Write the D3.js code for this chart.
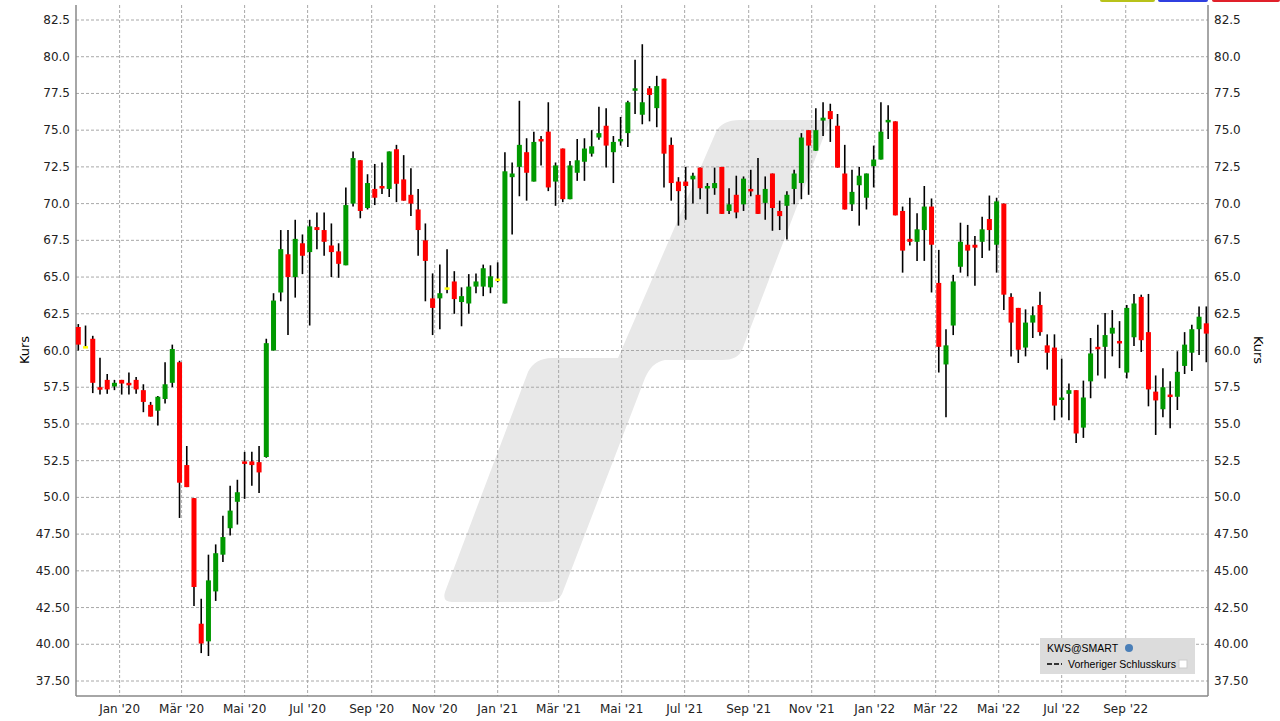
<!DOCTYPE html>
<html><head><meta charset="utf-8">
<script src="https://cdn.jsdelivr.net/npm/d3@7"></script>
<style>body{margin:0;background:#fff;font-family:"DejaVu Sans",Arial,sans-serif}</style>
</head><body><svg id="c" width="1280" height="721"></svg>
<script>
const startDate = new Date(2019,10,22);
const open  = [61.6,60.3,60.8,57.5,58.0,57.55,58.0,57.8,58.0,57.3,56.3,55.9,56.7,57.8,59.2,52.2,49.95,41.4,40.2,43.6,46.1,47.9,49.7,52.45,52.45,52.4,52.75,60.0,63.95,66.55,65.0,67.3,66.7,68.4,68.2,67.15,66.75,65.8,70.0,72.95,69.7,71.0,71.2,71.0,73.7,71.65,70.6,69.6,67.5,63.55,63.55,64.3,64.7,63.3,63.2,64.35,64.35,64.3,64.9,63.2,71.8,72.5,73.5,71.5,74.4,74.9,71.5,73.75,70.3,72.1,72.85,73.4,74.5,75.3,73.5,74.3,74.8,77.7,76.05,77.85,76.5,78.5,74.0,71.5,71.5,71.65,72.45,71.05,71.05,72.5,69.5,70.6,69.95,71.0,70.6,70.05,72.05,69.5,69.85,71.0,71.4,75.0,73.6,75.65,76.3,75.3,72.05,69.95,71.25,70.4,72.55,73.0,75.6,75.6,69.5,67.6,67.4,68.2,69.8,64.6,59.05,61.7,65.7,67.2,67.2,67.4,68.95,67.2,70.0,63.65,62.9,60.2,61.9,63.1,60.35,60.2,56.65,57.05,57.3,54.75,57.9,60.25,60.25,61.15,60.65,58.5,60.9,63.65,61.25,57.2,56.0,57.0,56.85,58.95,59.85,61.45,61.85];
const high  = [61.8,61.7,61.0,59.5,58.4,58.0,58.0,58.5,58.2,57.7,56.5,56.9,59.2,60.4,59.3,53.5,49.95,43.1,46.1,46.8,48.75,50.8,51.2,53.1,53.1,53.5,60.8,63.9,68.2,68.2,68.9,67.9,68.9,69.4,69.4,68.65,67.3,71.1,73.55,72.95,72.0,72.7,72.8,73.55,74.0,73.3,72.4,71.0,68.65,65.25,65.85,66.9,65.4,64.3,65.2,65.25,65.85,65.8,66.0,73.5,72.8,77.0,74.45,74.9,74.6,76.9,72.8,73.75,72.9,74.4,74.45,75.0,76.6,76.5,74.6,75.9,77.0,79.8,80.85,78.0,78.7,78.5,74.5,71.8,72.5,72.1,72.45,71.4,72.45,72.5,71.05,71.9,71.85,72.3,73.1,71.85,72.05,70.2,70.85,72.3,74.8,75.0,76.5,76.9,76.8,76.1,74.0,72.3,72.5,72.05,73.95,76.9,76.7,75.6,69.8,70.4,69.35,71.2,70.35,66.85,61.45,65.15,68.7,68.55,67.8,69.1,70.55,70.4,70.0,63.9,62.9,62.8,63.0,64.0,61.1,61.1,59.45,57.75,57.3,57.95,60.85,61.75,62.55,62.75,62.0,63.1,63.85,63.8,63.85,58.3,58.8,57.9,59.95,61.25,61.75,63.0,63.0];
const low   = [60.0,60.2,57.1,57.0,57.05,57.3,57.0,57.0,57.05,55.8,55.5,54.9,56.4,57.5,48.6,50.7,42.6,39.4,39.2,42.95,45.6,47.4,48.15,49.9,50.8,50.3,52.7,60.0,63.35,61.05,63.6,65.2,61.7,66.9,66.45,65.0,64.95,65.8,69.8,69.0,69.6,69.9,70.65,70.45,70.1,70.2,69.15,66.45,63.35,61.05,61.45,63.9,62.5,61.65,62.5,63.9,63.7,63.9,64.65,63.2,67.9,70.5,70.2,71.5,72.6,70.85,69.85,70.1,70.3,71.55,71.55,73.2,74.35,72.45,71.4,73.95,73.85,76.1,75.4,75.6,75.2,71.1,70.2,68.5,68.9,70.0,70.3,69.3,70.6,69.3,69.3,69.0,69.5,70.5,69.3,68.9,68.15,68.2,67.55,69.95,70.3,70.6,73.6,74.6,74.2,72.45,69.6,69.5,68.5,69.6,71.1,73.0,74.4,69.2,65.3,67.15,66.1,66.1,63.95,58.5,55.45,61.05,65.3,65.05,64.4,66.3,66.8,65.3,62.75,59.6,59.15,59.6,60.85,61.0,58.7,55.25,55.45,55.25,53.7,54.05,56.75,58.3,58.1,59.6,58.8,58.1,60.3,59.9,56.2,54.25,55.45,54.7,55.95,58.4,58.6,59.7,59.2];
const close = [60.4,60.3,57.8,57.35,57.35,57.8,57.75,57.7,57.35,56.5,55.5,56.85,57.7,60.1,51.0,50.7,43.9,40.05,44.35,46.2,47.3,49.1,50.35,52.3,52.2,51.7,60.5,63.4,66.9,65.0,67.6,66.45,68.45,68.2,67.4,66.7,65.9,69.9,73.1,69.5,71.4,70.4,71.1,73.55,71.35,70.2,70.0,68.2,66.1,62.9,63.9,64.3,63.5,63.7,64.35,64.7,65.6,65.05,64.9,72.2,72.05,74.0,72.1,74.2,74.3,71.1,72.6,70.3,72.6,72.95,73.75,73.9,74.8,73.95,74.2,74.4,76.9,77.85,76.9,77.4,78.0,73.4,71.4,70.85,71.2,71.9,71.05,71.2,71.4,69.3,69.95,69.4,71.7,70.85,69.3,71.0,69.7,69.15,70.6,72.05,74.5,73.95,75.0,75.85,75.75,72.45,69.6,70.8,71.9,72.05,73.0,74.9,75.7,69.2,66.8,67.4,68.25,69.8,67.2,60.25,60.35,64.7,67.4,66.8,67.0,68.25,68.2,70.15,63.8,61.9,60.05,61.9,62.4,61.25,59.85,56.25,56.8,57.3,54.35,56.8,59.8,60.1,61.05,61.55,60.5,62.9,63.2,60.7,57.35,56.6,57.5,56.85,58.55,60.4,61.45,62.3,61.15];
const yTicks = [37.5,40,42.5,45,47.5,50,52.5,55,57.5,60,62.5,65,67.5,70,72.5,75,77.5,80,82.5];
const yTickLabels = ["37.50","40.00","42.50","45.00","47.50","50.0","52.5","55.0","57.5","60.0","62.5","65.0","67.5","70.0","72.5","75.0","77.5","80.0","82.5"];
const monthNames = ["Jan","Feb","Mär","Apr","Mai","Jun","Jul","Aug","Sep","Okt","Nov","Dez"];

const svg = d3.select("#c");
const L=76, R=1208, T=5, B=696;
const n = open.length;
const dates = open.map((_,i)=>d3.timeDay.offset(startDate, 7*i));
const x = d3.scaleTime().domain([dates[0], dates[n-1]]).range([78.3, 1206.3]);
const y = d3.scaleLinear().domain([37.5,82.5]).range([681,20]);

svg.append("path").attr("fill","#e8e8e8")
 .attr("d","M445,592 L528,372 Q535,358 552,358 L618,358 L716,132 Q722,120 740,120 L830,120 L742,350 Q738,360 722,360 L665,360 Q652,362 645,378 L562,594 Q558,602 548,602 L452,602 Q442,602 445,592 Z");

const xTicks = x.ticks(d3.timeMonth.every(2)).filter(d=>d.getMonth()%2===0 && x(d)<1170);
svg.append("g").selectAll("line").data(yTicks).join("line")
 .attr("x1",L).attr("x2",R).attr("y1",d=>y(d)).attr("y2",d=>y(d))
 .attr("stroke","#a8a8a8").attr("stroke-dasharray","3,2");
svg.append("g").selectAll("line").data(xTicks).join("line")
 .attr("x1",d=>x(d)).attr("x2",d=>x(d)).attr("y1",T).attr("y2",B)
 .attr("stroke","#a8a8a8").attr("stroke-dasharray","3,2");

svg.append("line").attr("x1",L).attr("x2",L).attr("y1",T).attr("y2",B).attr("stroke","#888").attr("stroke-width",1.5);
svg.append("line").attr("x1",R).attr("x2",R).attr("y1",T).attr("y2",B).attr("stroke","#888").attr("stroke-width",1.5);
svg.append("line").attr("x1",L).attr("x2",R).attr("y1",B).attr("y2",B).attr("stroke","#888").attr("stroke-width",1.5);

const fs=12;
svg.append("g").selectAll("text").data(yTicks).join("text")
 .attr("x",70).attr("y",d=>y(d)+4).attr("text-anchor","end").attr("font-size",fs).attr("fill","#222")
 .text((d,i)=>yTickLabels[i]);
svg.append("g").selectAll("text").data(yTicks).join("text")
 .attr("x",1214).attr("y",d=>y(d)+4).attr("text-anchor","start").attr("font-size",fs).attr("fill","#222")
 .text((d,i)=>yTickLabels[i]);
svg.append("g").selectAll("text").data(xTicks).join("text")
 .attr("x",d=>x(d)).attr("y",713).attr("text-anchor","middle").attr("font-size",fs).attr("fill","#222")
 .text(d=>monthNames[d.getMonth()]+" '"+String(d.getFullYear()).slice(2));
svg.append("text").attr("transform","translate(29,350) rotate(-90)").attr("text-anchor","middle").attr("font-size",13).text("Kurs");
svg.append("text").attr("transform","translate(1254,350) rotate(90)").attr("text-anchor","middle").attr("font-size",13).text("Kurs");

const g = svg.append("g");
const bw = 5;
g.selectAll("line").data(d3.range(n)).join("line")
 .attr("x1",i=>x(dates[i])).attr("x2",i=>x(dates[i]))
 .attr("y1",i=>y(high[i])).attr("y2",i=>y(low[i]))
 .attr("stroke","#000").attr("stroke-width",1.6);
g.selectAll("rect").data(d3.range(n)).join("rect")
 .attr("x",i=>x(dates[i])-bw/2).attr("width",bw)
 .attr("y",i=>y(Math.max(open[i],close[i])))
 .attr("height",i=>Math.max(2.5, Math.abs(y(open[i])-y(close[i]))))
 .attr("fill",i=>close[i]>open[i]?"#009900":close[i]<open[i]?"#ff0000":"#ffff00");

const lg = svg.append("g").attr("font-family","Arial, 'Liberation Sans', sans-serif");
lg.append("rect").attr("x",1040).attr("y",638).attr("width",155).attr("height",36).attr("fill","#dcdcdc");
lg.append("text").attr("x",1047).attr("y",652).attr("font-size",10.5).text("KWS@SMART");
lg.append("circle").attr("cx",1129).attr("cy",648).attr("r",4).attr("fill","#4a7fb8");
lg.append("line").attr("x1",1047).attr("x2",1062).attr("y1",664).attr("y2",664).attr("stroke","#333").attr("stroke-width",2).attr("stroke-dasharray","5,2");
lg.append("text").attr("x",1068).attr("y",668).attr("font-size",10.5).text("Vorheriger Schlusskurs");
lg.append("rect").attr("x",1179).attr("y",660).attr("width",8).attr("height",8).attr("fill","#fff").attr("stroke","#ccc");

svg.append("rect").attr("x",1100).attr("y",-4).attr("width",55).attr("height",6).attr("fill","#b8c21a").attr("rx",2);
svg.append("rect").attr("x",1158).attr("y",-4).attr("width",50).attr("height",6).attr("fill","#2f3fe0").attr("rx",2);
svg.append("rect").attr("x",1212).attr("y",-4).attr("width",68).attr("height",6).attr("fill","#e0202a").attr("rx",2);
</script></body></html>
